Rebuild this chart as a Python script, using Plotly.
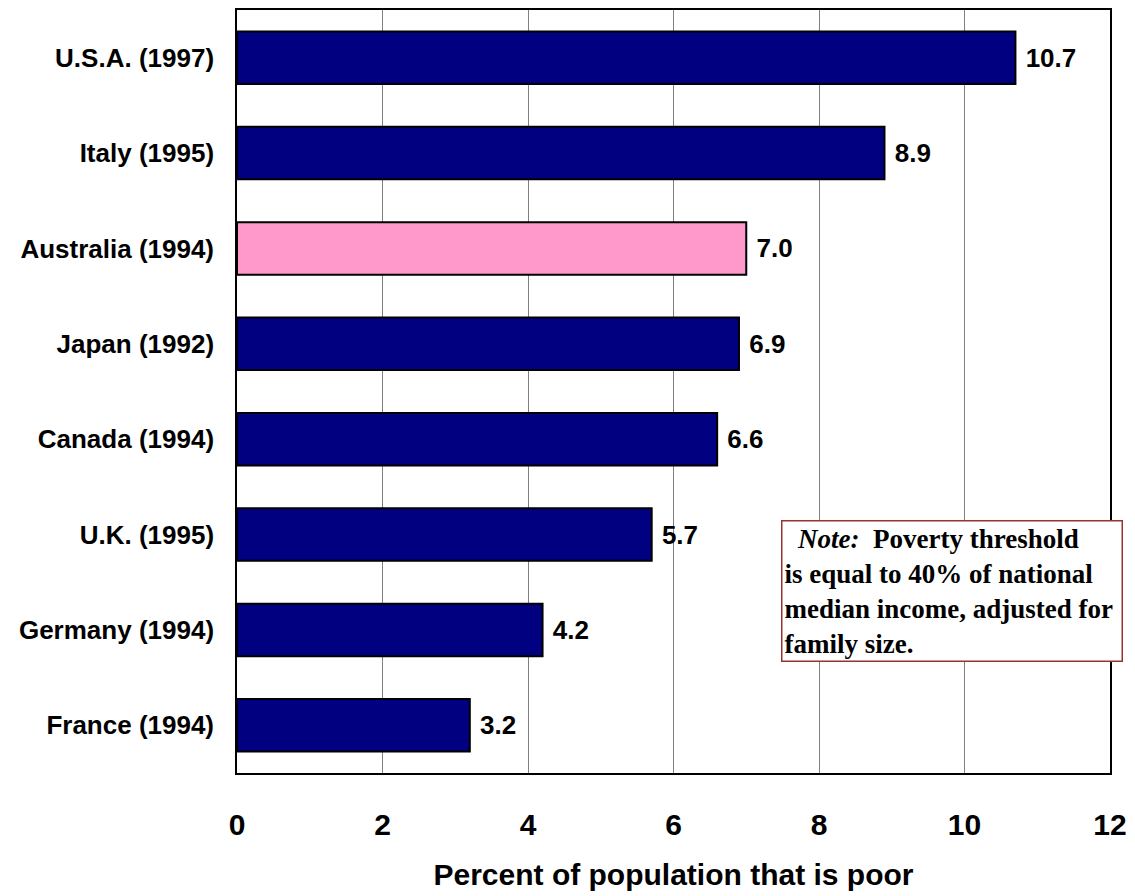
import plotly.graph_objects as go

countries = ["France (1994)", "Germany (1994)", "U.K. (1995)", "Canada (1994)",
             "Japan (1992)", "Australia (1994)", "Italy (1995)", "U.S.A. (1997)"]
poverty_rate = [3.2, 4.2, 5.7, 6.6, 6.9, 7.0, 8.9, 10.7]
bar_colors = ["#000080", "#000080", "#000080", "#000080",
              "#000080", "#FF99CC", "#000080", "#000080"]
x_ticks = [0, 2, 4, 6, 8, 10, 12]

sans = "Liberation Sans, Arial, sans-serif"

fig = go.Figure(go.Bar(
    x=poverty_rate,
    y=countries,
    orientation="h",
    width=0.55,
    marker=dict(color=bar_colors, line=dict(color="#000000", width=2)),
    text=poverty_rate,
    texttemplate=" %{x:.1f}",
    textposition="outside",
    cliponaxis=False,
    textfont=dict(family=sans, size=26, color="#000000", weight="bold"),
))

fig.update_layout(
    width=1135, height=896,
    margin=dict(l=237, r=21, t=8, b=123),
    paper_bgcolor="white", plot_bgcolor="white",
    showlegend=False,
    bargap=0.45,
    xaxis=dict(
        range=[0, 12], tickvals=x_ticks, ticktext=[str(v) for v in x_ticks],
        showgrid=True, gridcolor="#808080", gridwidth=1,
        zeroline=False,
        showline=True, linecolor="#000000", linewidth=1.5, mirror=True,
        ticks="", ticklabelstandoff=24,
        tickfont=dict(family=sans, size=30, color="#000000", weight="bold"),
        title=dict(text="Percent of population that is poor", standoff=24,
                   font=dict(family=sans, size=30, color="#000000", weight="bold")),
    ),
    yaxis=dict(
        range=[-0.5, 7.5],
        showgrid=False, zeroline=False,
        showline=True, linecolor="#000000", linewidth=1.5, mirror=True,
        ticks="", ticklabelstandoff=16,
        tickfont=dict(family=sans, size=26, color="#000000", weight="bold"),
    ),
)

fig.add_annotation(
    xref="paper", yref="paper", x=0.623, y=0.332,
    xanchor="left", yanchor="top", align="left",
    text=("\u00a0\u00a0<i>Note:</i>\u00a0 Poverty threshold<br>"
          "is equal to 40% of national<br>"
          "median income, adjusted for\u00a0<br>"
          "family size."),
    font=dict(family="Liberation Serif, Times New Roman, serif", size=27,
              color="#000000", weight="bold"),
    showarrow=False,
    bgcolor="white", bordercolor="#993333", borderwidth=1.5, borderpad=2,
)

fig.write_html("out.html")
